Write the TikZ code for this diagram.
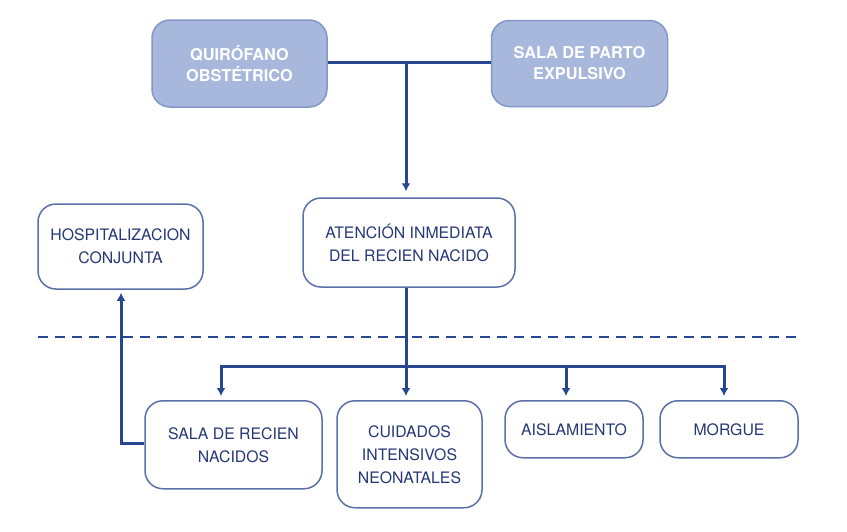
\documentclass[tikz,border=0pt]{standalone}
\usepackage{fontspec}
\setmainfont{TeX Gyre Heros}
\usepackage{xcolor}
\usepackage{tikz}
\usetikzlibrary{
    positioning,
    calc,
    arrows.meta
}
\definecolor{linkblue}{RGB}{39,72,145}
\definecolor{textblue}{RGB}{38,56,118}
\definecolor{edgeblue}{RGB}{92,112,168}
\definecolor{topfill}{RGB}{168,184,220}
\definecolor{topedge}{RGB}{130,150,200}
\tikzset{
  basic/.style = {
      draw=edgeblue,
      line width=1.5pt,
      rectangle,
      rounded corners=18pt,
      align=center,
      inner sep=0pt,
      text=textblue,
      font=\fontsize{15.8}{23}\selectfont
  },
  source/.style = {
      basic,
      fill=topfill,
      draw=topedge,
      text=white,
      font=\bfseries\fontsize{16.3}{21}\selectfont
  },
  unit/.style = {
      basic,
      fill=white
  },
  link/.style = {
      draw=linkblue,
      line width=3pt
  },
  arrow/.style = {
      link,
      -{Latex[length=8pt,width=9pt]}
  },
  divider/.style = {
      draw=linkblue,
      line width=1.8pt,
      dash pattern=on 10pt off 7pt
  }
}
\begin{document}
\begin{tikzpicture}[x=1pt,y=-1pt]
    \useasboundingbox (0,0) rectangle (847,531);
    % Nodes
    \node[source, minimum width=175pt, minimum height=87pt] (quiro) at (239.5,63.5) {QUIRÓFANO\\OBSTÉTRICO};
    \node[source, minimum width=176pt, minimum height=86pt, right=163pt of quiro] (parto) {SALA DE PARTO\\EXPULSIVO};
    \node[unit, minimum width=212pt, minimum height=89pt] (atencion) at (409,242.5) {ATENCIÓN INMEDIATA\\DEL RECIEN NACIDO};
    \node[unit, minimum width=165pt, minimum height=85pt] (hosp) at (120.5,246.5) {HOSPITALIZACION\\CONJUNTA};
    \node[unit, anchor=north, minimum width=177pt, minimum height=88pt] (sala) at (233.5,400) {SALA DE RECIEN\\NACIDOS};
    \node[unit, anchor=north, minimum width=145pt, minimum height=107pt] (cuidados) at (409.5,400) {CUIDADOS\\INTENSIVOS\\NEONATALES};
    \node[unit, anchor=north, minimum width=138pt, minimum height=57pt] (aisla) at (574,400) {AISLAMIENTO};
    \node[unit, anchor=north, minimum width=138pt, minimum height=57pt] (morgue) at (729,400) {MORGUE};
    % Junctions
    \coordinate (top) at (406,62);
    \coordinate (bus) at (406,366);
    \coordinate (busL) at (221,366);
    \coordinate (busM) at (566,366);
    \coordinate (busR) at (724,366);
    \coordinate (elbow) at (121,443);
    \coordinate (dashL) at (38,337);
    \coordinate (dashR) at (800,337);
    % Edges
    \path[link] (quiro.east |- top) -- (parto.west |- top);
    \path[arrow, shorten >=6pt] (top) -- (atencion.north -| top);
    \path[arrow, shorten >=4pt] (atencion.south -| bus) -- (cuidados.north -| bus);
    \path[arrow, {Latex[length=8pt,width=9pt]}-{Latex[length=8pt,width=9pt]}, shorten <=4pt, shorten >=4pt]
    (sala.north -| busL) -- (busL) -- (busR) -- (morgue.north -| busR);
    \path[arrow, shorten >=4pt] (busM) -- (aisla.north -| busM);
    \path[arrow, shorten >=3pt] (sala.west |- elbow) -- (elbow) -- (hosp.south -| elbow);
    \path[divider] (dashL) -- (dashR);
\end{tikzpicture}
\end{document}
